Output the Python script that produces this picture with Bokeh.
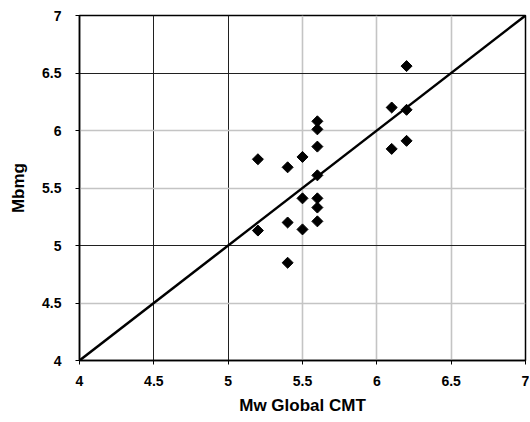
import math
from bokeh.plotting import figure
from bokeh.models import FixedTicker, Grid, Range1d
from bokeh.embed import file_html
from bokeh.resources import INLINE

# data
mw_cmt = [5.2, 5.2, 5.4, 5.4, 5.4, 5.5, 5.5, 5.5, 5.6, 5.6,
          5.6, 5.6, 5.6, 5.6, 5.6, 6.1, 6.1, 6.2, 6.2, 6.2]
mbmg = [5.75, 5.13, 5.68, 5.20, 4.85, 5.77, 5.41, 5.14, 6.08, 6.01,
        5.86, 5.61, 5.41, 5.33, 5.21, 6.20, 5.84, 6.56, 6.18, 5.91]
line_x = [4, 7]
line_y = [4, 7]
tick_values = [4, 4.5, 5, 5.5, 6, 6.5, 7]
tick_labels = ["4", "4.5", "5", "5.5", "6", "6.5", "7"]
dark_x_grid = [4.5, 5]
light_x_grid = [5.5, 6, 6.5]
dark_y_grid = [5, 6.5]
light_y_grid = [4.5, 5.5, 6]

FONT = "Liberation Sans"

p = figure(width=529, height=422, output_backend="svg", toolbar_location=None,
           x_range=Range1d(4, 7), y_range=Range1d(4, 7),
           min_border_left=79, min_border_right=4, min_border_top=15, min_border_bottom=62)
p.xgrid.visible = False
p.ygrid.visible = False
p.outline_line_color = "black"
p.outline_line_width = 1.5
p.background_fill_color = "white"
p.border_fill_color = "white"

for dim, ticks, col, w in [(0, dark_x_grid, "#202020", 1), (0, light_x_grid, "#c4c4c4", 1.6),
                           (1, dark_y_grid, "#202020", 1), (1, light_y_grid, "#c4c4c4", 1.6)]:
    g = Grid(dimension=dim, ticker=FixedTicker(ticks=ticks), grid_line_color=col, grid_line_width=w)
    p.add_layout(g)

overrides = {v: l for v, l in zip(tick_values, tick_labels)}
for ax in (p.xaxis, p.yaxis):
    ax.ticker = FixedTicker(ticks=tick_values)
    ax.major_label_overrides = overrides
    ax.minor_tick_line_color = None
    ax.major_tick_in = 0
    ax.major_tick_out = 4
    ax.major_tick_line_color = "black"
    ax.axis_line_color = "black"
    ax.axis_line_width = 1.5
    ax.major_label_text_font = FONT
    ax.major_label_text_font_style = "bold"
    ax.major_label_text_font_size = "14px"
    ax.major_label_text_color = "black"
    ax.axis_label_text_font = FONT
    ax.axis_label_text_font_style = "bold"
    ax.axis_label_text_font_size = "17px"
    ax.axis_label_text_color = "black"

p.xaxis.axis_label = "Mw Global CMT"
p.yaxis.axis_label = "Mbmg"
p.xaxis.major_label_standoff = 11
p.xaxis.axis_label_standoff = 7
p.yaxis.major_label_standoff = 14
p.yaxis.axis_label_standoff = 11

p.line(line_x, line_y, line_color="black", line_width=2.5)
p.scatter(mw_cmt, mbmg, marker="square", angle=math.pi / 4, size=7.8,
          fill_color="black", line_color="black")

open("out.html", "w").write(file_html(p, INLINE))
